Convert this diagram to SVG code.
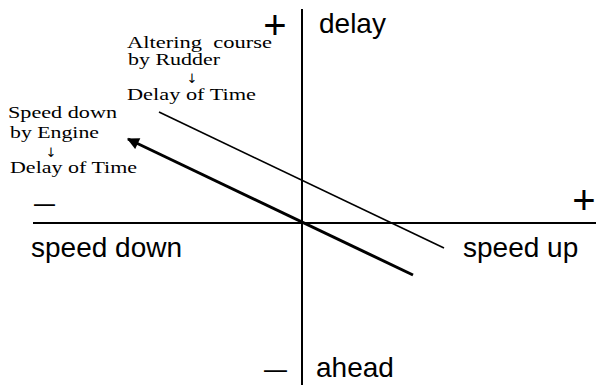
<svg xmlns="http://www.w3.org/2000/svg" width="596" height="385" viewBox="0 0 596 385">
<style>
.serif{font-family:"Liberation Serif","Times New Roman",serif;font-size:16.5px;fill:#000}
.arr{font-family:"DejaVu Sans",sans-serif;font-size:13px;fill:#000;text-anchor:middle}
.sans{font-family:"Liberation Sans",Arial,sans-serif;font-size:28px;fill:#000}
.plus{font-family:"Liberation Sans",Arial,sans-serif;font-size:40px;fill:#000;text-anchor:middle}
.minus{font-family:"Liberation Sans",Arial,sans-serif;font-size:28px;fill:#000}
.axis{stroke:#000;stroke-width:2;fill:none}
</style>
<defs>
<marker id="ah" viewBox="0 0 10 10" refX="9" refY="5" markerWidth="4.5" markerHeight="4" orient="auto" markerUnits="strokeWidth">
<path d="M0,0 L10,5 L0,10 z" fill="#000"/>
</marker>
</defs>
<g id="axes">
<line class="axis" x1="302" y1="9" x2="302" y2="385"/>
<line class="axis" x1="33" y1="223" x2="596" y2="223"/>
</g>
<g id="connectors">
<line x1="159" y1="112" x2="444" y2="248" stroke="#000" stroke-width="1.6"/>
<line x1="413" y1="275" x2="128" y2="139" stroke="#000" stroke-width="3" marker-end="url(#ah)"/>
</g>
<g id="signs">
<text class="plus" x="275" y="39">+</text>
<text class="plus" x="584" y="214">+</text>
<text class="minus" x="34" y="212" textLength="21" lengthAdjust="spacingAndGlyphs">–</text>
<text class="minus" x="264" y="378" textLength="23" lengthAdjust="spacingAndGlyphs">–</text>
</g>
<g id="axis-labels">
<text class="sans" x="319" y="33">delay</text>
<text class="sans" x="31" y="257">speed down</text>
<text class="sans" x="463" y="257">speed up</text>
<text class="sans" x="316" y="377">ahead</text>
</g>
<g id="rudder-label">
<text class="serif" x="127" y="48" textLength="145" lengthAdjust="spacingAndGlyphs" xml:space="preserve">Altering  course</text>
<text class="serif" x="128" y="65" textLength="92" lengthAdjust="spacingAndGlyphs">by Rudder</text>
<text class="arr" x="192" y="83">↓</text>
<text class="serif" x="127" y="100" textLength="129" lengthAdjust="spacingAndGlyphs">Delay of Time</text>
</g>
<g id="engine-label">
<text class="serif" x="8" y="118" textLength="109" lengthAdjust="spacingAndGlyphs">Speed down</text>
<text class="serif" x="10" y="138" textLength="89" lengthAdjust="spacingAndGlyphs">by Engine</text>
<text class="arr" x="51" y="157">↓</text>
<text class="serif" x="10" y="173" textLength="127" lengthAdjust="spacingAndGlyphs">Delay of Time</text>
</g>
</svg>
